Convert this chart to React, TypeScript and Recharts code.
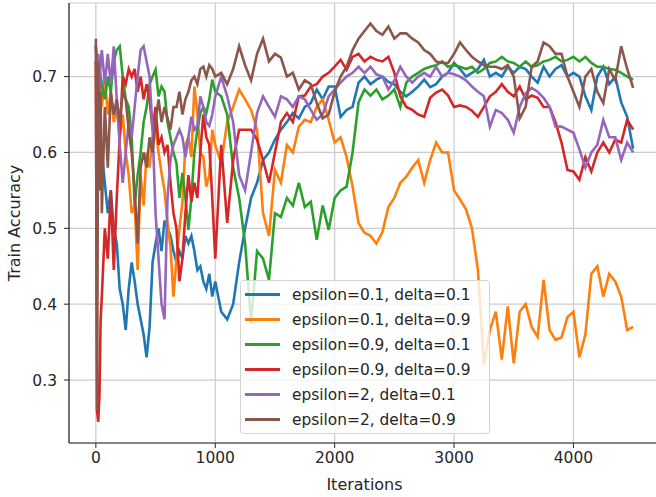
import { LineChart, Line, XAxis, YAxis, CartesianGrid, Legend } from "recharts";

// x positions (training iterations) – denser at the start where the curves jump around
const iterations = [
  0, 10, 20, 30, 40,
  50, 75, 100, 125, 150, 175, 200, 225, 250, 275,
  300, 325, 350, 375, 400, 425, 450, 475, 500, 525,
  550, 575, 600, 625, 650, 675, 700, 725, 750, 775,
  800, 825, 850, 875, 900, 925, 950, 975, 1000,
  1050, 1100, 1150, 1200, 1250, 1300, 1350, 1400, 1450, 1500,
  1550, 1600, 1650, 1700, 1750, 1800, 1850, 1900, 1950, 2000,
  2050, 2100, 2150, 2200, 2250, 2300, 2350, 2400, 2450, 2500,
  2550, 2600, 2650, 2700, 2750, 2800, 2850, 2900, 2950, 3000,
  3050, 3100, 3150, 3200, 3250, 3300, 3350, 3400, 3450, 3500,
  3550, 3600, 3650, 3700, 3750, 3800, 3850, 3900, 3950, 4000,
  4050, 4100, 4150, 4200, 4250, 4300, 4350, 4400, 4450, 4500,
];

// epsilon=0.1, delta=0.1
const eps01Delta01 = [
  0.74, 0.70, 0.72, 0.66, 0.62,
  0.60, 0.56, 0.52, 0.55, 0.50, 0.48, 0.42, 0.40, 0.366, 0.42,
  0.455, 0.43, 0.40, 0.38, 0.36, 0.33, 0.37, 0.455, 0.48, 0.50,
  0.47, 0.51, 0.50, 0.49, 0.47, 0.455, 0.47, 0.46, 0.49, 0.48,
  0.49, 0.47, 0.445, 0.45, 0.43, 0.42, 0.44, 0.41, 0.43,
  0.39, 0.38, 0.40, 0.455, 0.50, 0.54, 0.56, 0.59, 0.60, 0.617,
  0.63, 0.64, 0.652, 0.645, 0.66, 0.665, 0.683, 0.67, 0.687, 0.687,
  0.647, 0.656, 0.66, 0.692, 0.70, 0.69, 0.696, 0.70, 0.693, 0.69,
  0.68, 0.674, 0.68, 0.687, 0.696, 0.686, 0.69, 0.70, 0.705, 0.718,
  0.71, 0.70, 0.705, 0.71, 0.722, 0.70, 0.705, 0.70, 0.713, 0.705,
  0.713, 0.71, 0.70, 0.692, 0.713, 0.70, 0.71, 0.715, 0.70, 0.705,
  0.70, 0.674, 0.656, 0.70, 0.713, 0.69, 0.70, 0.666, 0.647, 0.605,
];

// epsilon=0.1, delta=0.9
const eps01Delta09 = [
  0.72, 0.70, 0.68, 0.71, 0.70,
  0.66, 0.70, 0.65, 0.68, 0.64, 0.66, 0.62, 0.65, 0.60, 0.57,
  0.52, 0.53, 0.445, 0.57, 0.53, 0.60, 0.58, 0.62, 0.63, 0.60,
  0.573, 0.55, 0.507, 0.476, 0.41, 0.46, 0.50, 0.534, 0.61, 0.62,
  0.594, 0.687, 0.652, 0.60, 0.594, 0.555, 0.57, 0.63, 0.61,
  0.586, 0.64, 0.66, 0.683, 0.67, 0.656, 0.63, 0.52, 0.49, 0.577,
  0.56, 0.61, 0.60, 0.634, 0.643, 0.64, 0.66, 0.67, 0.643, 0.613,
  0.62, 0.594, 0.555, 0.507, 0.494, 0.49, 0.48, 0.495, 0.528, 0.54,
  0.56, 0.568, 0.58, 0.59, 0.56, 0.59, 0.613, 0.60, 0.60, 0.55,
  0.538, 0.525, 0.50, 0.445, 0.32, 0.366, 0.39, 0.327, 0.397, 0.322,
  0.39, 0.40, 0.37, 0.357, 0.432, 0.366, 0.353, 0.356, 0.383, 0.39,
  0.33, 0.36, 0.44, 0.45, 0.41, 0.44, 0.43, 0.41, 0.366, 0.37,
];

// epsilon=0.9, delta=0.1
const eps09Delta01 = [
  0.70, 0.68, 0.70, 0.69, 0.70,
  0.69, 0.67, 0.70, 0.68, 0.72, 0.735, 0.74, 0.70, 0.67, 0.66,
  0.62, 0.53, 0.57, 0.60, 0.64, 0.66, 0.69, 0.70, 0.709, 0.674,
  0.687, 0.68, 0.64, 0.62, 0.60, 0.586, 0.54, 0.573, 0.54, 0.498,
  0.54, 0.60, 0.63, 0.652, 0.66, 0.652, 0.67, 0.696, 0.68,
  0.674, 0.65, 0.58, 0.54, 0.48, 0.375, 0.47, 0.46, 0.432, 0.52,
  0.515, 0.54, 0.53, 0.56, 0.528, 0.535, 0.485, 0.53, 0.498, 0.54,
  0.55, 0.555, 0.60, 0.666, 0.683, 0.675, 0.683, 0.67, 0.675, 0.683,
  0.66, 0.692, 0.70, 0.705, 0.71, 0.713, 0.715, 0.72, 0.713, 0.715,
  0.713, 0.71, 0.713, 0.705, 0.71, 0.718, 0.72, 0.726, 0.72, 0.718,
  0.713, 0.72, 0.713, 0.715, 0.72, 0.722, 0.726, 0.72, 0.722, 0.726,
  0.72, 0.726, 0.718, 0.713, 0.713, 0.71, 0.709, 0.705, 0.70, 0.696,
];

// epsilon=0.9, delta=0.9
const eps09Delta09 = [
  0.72, 0.26, 0.245, 0.28, 0.38,
  0.41, 0.50, 0.46, 0.55, 0.445, 0.54, 0.62, 0.70, 0.69, 0.71,
  0.70, 0.71, 0.68, 0.70, 0.67, 0.69, 0.67, 0.63, 0.66, 0.61,
  0.62, 0.60, 0.61, 0.56, 0.52, 0.50, 0.43, 0.46, 0.52, 0.57,
  0.535, 0.56, 0.54, 0.60, 0.65, 0.62, 0.61, 0.54, 0.46,
  0.61, 0.507, 0.59, 0.63, 0.63, 0.63, 0.617, 0.59, 0.56, 0.60,
  0.64, 0.652, 0.64, 0.674, 0.675, 0.687, 0.69, 0.70, 0.705, 0.713,
  0.722, 0.709, 0.726, 0.73, 0.72, 0.726, 0.722, 0.72, 0.726, 0.705,
  0.674, 0.66, 0.656, 0.65, 0.647, 0.672, 0.679, 0.683, 0.675, 0.66,
  0.662, 0.66, 0.655, 0.647, 0.66, 0.674, 0.68, 0.69, 0.68, 0.674,
  0.687, 0.67, 0.675, 0.672, 0.66, 0.66, 0.64, 0.613, 0.577, 0.575,
  0.564, 0.594, 0.575, 0.60, 0.613, 0.60, 0.617, 0.613, 0.643, 0.63,
];

// epsilon=2, delta=0.1
const eps2Delta01 = [
  0.74, 0.72, 0.73, 0.68, 0.72,
  0.735, 0.69, 0.73, 0.69, 0.74, 0.67, 0.61, 0.56, 0.60, 0.64,
  0.62, 0.66, 0.70, 0.735, 0.74, 0.72, 0.70, 0.63, 0.52, 0.46,
  0.40, 0.38, 0.54, 0.59, 0.61, 0.62, 0.63, 0.62, 0.594, 0.62,
  0.647, 0.63, 0.635, 0.674, 0.66, 0.64, 0.635, 0.65, 0.674,
  0.70, 0.674, 0.64, 0.57, 0.55, 0.60, 0.652, 0.674, 0.66, 0.647,
  0.674, 0.67, 0.66, 0.674, 0.67, 0.656, 0.643, 0.65, 0.674, 0.683,
  0.692, 0.70, 0.705, 0.713, 0.705, 0.713, 0.703, 0.70, 0.683, 0.695,
  0.713, 0.70, 0.692, 0.70, 0.705, 0.70, 0.713, 0.70, 0.705, 0.703,
  0.70, 0.695, 0.687, 0.68, 0.674, 0.634, 0.656, 0.652, 0.643, 0.626,
  0.66, 0.678, 0.685, 0.68, 0.672, 0.66, 0.634, 0.634, 0.63, 0.626,
  0.604, 0.58, 0.60, 0.61, 0.643, 0.62, 0.62, 0.59, 0.613, 0.60,
];

// epsilon=2, delta=0.9
const eps2Delta09 = [
  0.75, 0.26, 0.72, 0.55, 0.68,
  0.52, 0.66, 0.58, 0.68, 0.65, 0.67, 0.64, 0.68, 0.67, 0.63,
  0.60, 0.55, 0.48, 0.58, 0.60, 0.58, 0.62, 0.60, 0.64, 0.67,
  0.64, 0.66, 0.645, 0.63, 0.66, 0.66, 0.68, 0.65, 0.67, 0.68,
  0.695, 0.70, 0.69, 0.71, 0.713, 0.70, 0.715, 0.71, 0.70,
  0.705, 0.69, 0.71, 0.74, 0.715, 0.695, 0.73, 0.75, 0.72, 0.73,
  0.725, 0.70, 0.705, 0.683, 0.695, 0.69, 0.665, 0.645, 0.65, 0.68,
  0.70, 0.713, 0.735, 0.75, 0.76, 0.77, 0.76, 0.755, 0.766, 0.75,
  0.757, 0.757, 0.75, 0.745, 0.735, 0.73, 0.72, 0.718, 0.718, 0.73,
  0.745, 0.735, 0.726, 0.72, 0.715, 0.713, 0.713, 0.71, 0.715, 0.70,
  0.645, 0.66, 0.713, 0.72, 0.745, 0.74, 0.73, 0.73, 0.70, 0.68,
  0.66, 0.70, 0.71, 0.68, 0.665, 0.71, 0.695, 0.74, 0.71, 0.685,
];

const seriesNames = [
  "epsilon=0.1, delta=0.1",
  "epsilon=0.1, delta=0.9",
  "epsilon=0.9, delta=0.1",
  "epsilon=0.9, delta=0.9",
  "epsilon=2, delta=0.1",
  "epsilon=2, delta=0.9",
];
const seriesValues = [eps01Delta01, eps01Delta09, eps09Delta01, eps09Delta09, eps2Delta01, eps2Delta09];
const colors = ["#1f77b4", "#ff7f0e", "#2ca02c", "#d62728", "#9467bd", "#8c564b"];

const xTicks = [0, 1000, 2000, 3000, 4000];
const yTicks = [0.3, 0.4, 0.5, 0.6, 0.7];

const rows = iterations.map((it, i) => {
  const row: Record<string, number> = { it };
  seriesValues.forEach((vals, s) => {
    row["s" + s] = vals[i];
  });
  return row;
});

const TEXT = "#262626";

const LegendBox = () => (
  <div
    style={{
      width: 250,
      height: 154,
      boxSizing: "border-box",
      background: "rgba(255,255,255,0.8)",
      border: "1px solid #d4d4d4",
      borderRadius: 4,
      paddingTop: 1,
    }}
  >
    {seriesNames.map((name, i) => (
      <div key={name} style={{ display: "flex", alignItems: "center", height: 25 }}>
        <div style={{ width: 35, height: 2.5, marginLeft: 4, background: colors[i] }} />
        <span style={{ marginLeft: 12, fontSize: 15.4, color: TEXT, whiteSpace: "nowrap" }}>{name}</span>
      </div>
    ))}
  </div>
);

export default function App() {
  return (
    <div
      style={{
        position: "absolute",
        left: 0,
        top: 0,
        width: 656,
        height: 497,
        overflow: "hidden",
        background: "#fff",
        fontFamily: "DejaVu Sans",
      }}
    >
      <LineChart width={662} height={497} data={rows} margin={{ top: 3, right: 2, bottom: 0, left: 0 }}>
        <CartesianGrid stroke="#cccccc" strokeWidth={1.2} />
        <XAxis
          dataKey="it"
          type="number"
          domain={[-225, 4725]}
          ticks={xTicks}
          allowDataOverflow
          height={54}
          tickSize={5}
          tickMargin={4}
          tick={{ fill: TEXT, fontSize: 15.5 }}
          stroke={TEXT}
          axisLine={{ stroke: TEXT, strokeWidth: 1.2 }}
          label={{ value: "Iterations", position: "insideBottom", offset: 7, fill: TEXT, fontSize: 16 }}
        />
        <XAxis
          xAxisId="top"
          orientation="top"
          dataKey="it"
          type="number"
          domain={[-225, 4725]}
          height={0}
          tick={false}
          tickLine={false}
          axisLine={{ stroke: TEXT, strokeWidth: 1.2 }}
        />
        <YAxis
          type="number"
          domain={[0.217, 0.797]}
          ticks={yTicks}
          allowDataOverflow
          width={69}
          tickSize={5}
          tickMargin={7}
          tickFormatter={(v: number) => v.toFixed(1)}
          tick={{ fill: TEXT, fontSize: 15.5 }}
          stroke={TEXT}
          axisLine={{ stroke: TEXT, strokeWidth: 1.2 }}
          label={{
            value: "Train Accuracy",
            angle: -90,
            position: "insideLeft",
            offset: 14,
            fill: TEXT,
            fontSize: 16,
            style: { textAnchor: "middle" },
          }}
        />
        {seriesNames.map((name, s) => (
          <Line
            key={name}
            type="linear"
            dataKey={"s" + s}
            name={name}
            stroke={colors[s]}
            strokeWidth={2.6}
            dot={false}
            isAnimationActive={false}
          />
        ))}
        <Legend
          layout="vertical"
          align="center"
          verticalAlign="middle"
          wrapperStyle={{ left: 240, top: 280, width: 250, height: 154 }}
          content={() => <LegendBox />}
        />
      </LineChart>
    </div>
  );
}
